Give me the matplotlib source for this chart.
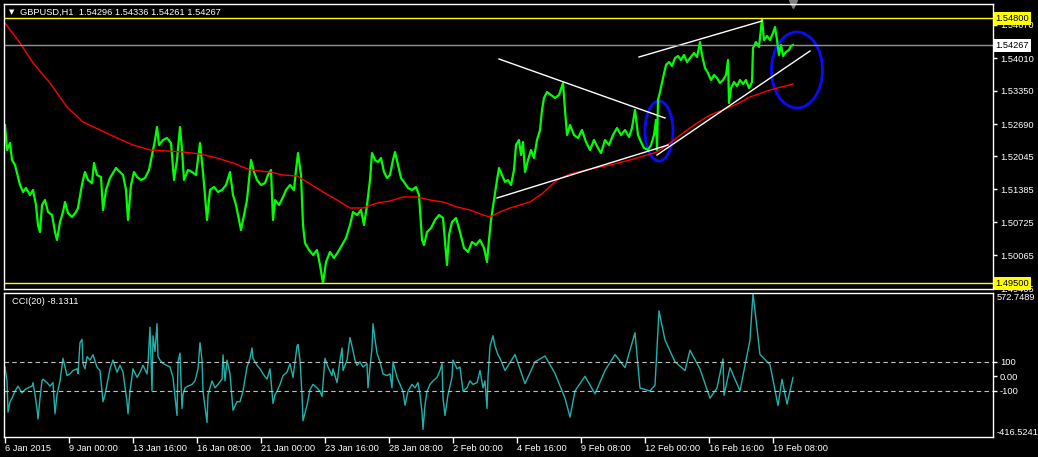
import matplotlib
matplotlib.use("Agg")
import matplotlib.pyplot as plt
from matplotlib.patches import Ellipse
from matplotlib.transforms import blended_transform_factory

plt.rcParams['font.family'] = ['Liberation Sans', 'DejaVu Sans']

# GBPUSD H1, bars counted in hours from 6 Jan 2015 08:00
price_bar = [0, 2, 5, 7, 10, 13, 15, 18, 21, 25, 28, 31, 33, 35, 37, 40, 43, 47, 50, 52,
             55, 58, 60, 63, 67, 71, 73, 76, 78, 80, 83, 87, 89, 92, 96, 98, 101, 105, 108, 111,
             115, 118, 121, 123, 126, 129, 132, 136, 140, 144, 147, 150, 152, 154, 158, 162, 166, 169, 172, 175,
             177, 179, 183, 187, 191, 195, 198, 202, 205, 209, 213, 217, 221, 225, 228, 231, 234, 236, 239, 242,
             244, 246, 249, 252, 256, 260, 263, 266, 268, 270, 274, 278, 281, 285, 289, 291, 293, 296, 298, 300,
             304, 308, 312, 315, 318, 321, 325, 329, 333, 337, 341, 345, 348, 352, 356, 359, 362, 365, 367, 370,
             373, 376, 379, 382, 385, 388, 390, 393, 396, 399, 403, 407, 411, 414, 417, 419, 422, 426, 430, 434,
             438, 442, 444, 447, 451, 455, 459, 463, 467, 471, 475, 479, 482, 484, 486, 489, 492, 494, 497, 500,
             503, 506, 509, 511, 514, 516, 518, 520, 523, 526, 529, 532, 535, 537, 539, 542, 546, 550, 554, 558,
             560, 562, 565, 569, 573, 577, 581, 585, 589, 593, 596, 600, 604, 608, 612, 616, 620, 624, 627, 630,
             633, 636, 639, 643, 646, 649, 651, 652, 653, 655, 658, 661, 664, 667, 670, 673, 676, 679, 682, 685,
             689, 692, 695, 697, 700, 703, 706, 709, 712, 715, 718, 721, 723, 724, 726, 729, 732, 735, 738, 741,
             744, 747, 748, 751, 754, 757, 759, 762, 765, 768, 770, 772, 774, 776, 778, 781, 784, 786, 788]
price = [1.5267, 1.5217, 1.5231, 1.5197, 1.5187, 1.5163, 1.5147, 1.5133, 1.5141, 1.5127,
         1.5137, 1.5107, 1.5067, 1.5053, 1.5107, 1.5117, 1.5093, 1.5087, 1.5053, 1.5037,
         1.5073, 1.5093, 1.5113, 1.5091, 1.5083, 1.5093, 1.5101, 1.5137, 1.5157, 1.5173,
         1.5157, 1.5151, 1.5191, 1.5167, 1.5163, 1.5097, 1.5137, 1.5161, 1.5171, 1.5181,
         1.5173, 1.5167, 1.5137, 1.5077, 1.5147, 1.5173, 1.5163, 1.5157, 1.5161, 1.5177,
         1.5207, 1.5237, 1.5263, 1.5227, 1.5237, 1.5241, 1.5231, 1.5157, 1.5197, 1.5263,
         1.5217, 1.5157, 1.5177, 1.5173, 1.5167, 1.5231, 1.5173, 1.5077, 1.5137, 1.5143,
         1.5133, 1.5137, 1.5147, 1.5173, 1.5127, 1.5107, 1.5077, 1.5057, 1.5087, 1.5117,
         1.5157, 1.5197, 1.5173, 1.5157, 1.5147, 1.5151, 1.5167, 1.5177, 1.5077, 1.5117,
         1.5107, 1.5123, 1.5137, 1.5147, 1.5137, 1.5177, 1.5211, 1.5167, 1.5067, 1.5031,
         1.5017, 1.5007, 1.5017, 1.4987, 1.4951, 1.4993, 1.5013, 1.5001, 1.5013, 1.5027,
         1.5041, 1.5067, 1.5093, 1.5087, 1.5097, 1.5067, 1.5107, 1.5157, 1.5211, 1.5197,
         1.5193, 1.5201, 1.5173, 1.5161, 1.5167, 1.5197, 1.5213, 1.5187, 1.5161, 1.5153,
         1.5141, 1.5137, 1.5143, 1.5127, 1.5037, 1.5027, 1.5053, 1.5061, 1.5077, 1.5087,
         1.5081, 1.4987, 1.5047, 1.5073, 1.5081, 1.5053, 1.5021, 1.5013, 1.5033, 1.5027,
         1.5037, 1.5021, 1.4993, 1.5037, 1.5077, 1.5117, 1.5157, 1.5181, 1.5167, 1.5153,
         1.5157, 1.5147, 1.5177, 1.5227, 1.5237, 1.5207, 1.5233, 1.5173, 1.5197, 1.5217,
         1.5201, 1.5237, 1.5257, 1.5297, 1.5321, 1.5333, 1.5327, 1.5321, 1.5327, 1.5351,
         1.5297, 1.5247, 1.5267, 1.5247, 1.5241, 1.5257, 1.5233, 1.5217, 1.5237, 1.5221,
         1.5211, 1.5237, 1.5227, 1.5247, 1.5261, 1.5247, 1.5257, 1.5243, 1.5261, 1.5297,
         1.5247, 1.5233, 1.5221, 1.5217, 1.5227, 1.5247, 1.5277, 1.5217, 1.5317, 1.5333,
         1.5361, 1.5387, 1.5393, 1.5385, 1.5401, 1.5405, 1.5397, 1.5407, 1.5393, 1.5401,
         1.5411, 1.5403, 1.5433, 1.5407, 1.5381, 1.5371, 1.5357, 1.5367, 1.5361, 1.5351,
         1.5357, 1.5367, 1.5397, 1.5311, 1.5341, 1.5353, 1.5345, 1.5357, 1.5349, 1.5357,
         1.5341, 1.5353, 1.5421, 1.5433, 1.5423, 1.5479, 1.5437, 1.5445, 1.5437, 1.5451,
         1.5463, 1.5437, 1.5407, 1.5427, 1.5405, 1.5413, 1.5417, 1.5425, 1.5427]

ma_bar = [0, 15, 28, 45, 62, 78, 95, 112, 128, 145, 162, 178, 195, 212, 228, 245, 265, 278, 292, 302,
          318, 332, 345, 358, 372, 385, 398, 412, 425, 438, 452, 465, 478, 485, 495, 505, 525, 538, 552, 565,
          585, 605, 625, 642, 652, 665, 678, 692, 705, 718, 732, 745, 765, 788]
ma = [1.5471, 1.5431, 1.5391, 1.5351, 1.5303, 1.5273, 1.5257, 1.5241, 1.5227, 1.5217,
      1.5215, 1.5213, 1.5209, 1.5201, 1.5191, 1.5177, 1.5173, 1.5167, 1.5165, 1.5153,
      1.5133, 1.5117, 1.5101, 1.5101, 1.5111, 1.5115, 1.5123, 1.5123, 1.5117, 1.5113,
      1.5103, 1.5097, 1.5087, 1.5083, 1.5093, 1.5101, 1.5113, 1.5131, 1.5157, 1.5169,
      1.5179, 1.5187, 1.5197, 1.5207, 1.5213, 1.5231, 1.5251, 1.5271, 1.5287, 1.5297,
      1.5309, 1.5323, 1.5337, 1.5349]

cci_bar = [0, 2, 3, 5, 7, 10, 13, 17, 20, 23, 27, 28, 30, 32, 33, 35, 37, 38, 42, 45,
           48, 50, 52, 55, 58, 62, 65, 68, 72, 73, 75, 77, 78, 80, 82, 85, 88, 92, 95, 98,
           100, 102, 105, 108, 112, 115, 118, 122, 123, 125, 128, 132, 135, 138, 142, 143, 145, 147, 148, 150,
           152, 153, 155, 158, 165, 168, 172, 173, 175, 177, 178, 180, 183, 187, 190, 193, 195, 197, 198, 202,
           203, 207, 210, 213, 217, 218, 220, 222, 225, 228, 232, 235, 238, 242, 245, 247, 248, 252, 255, 258,
           262, 265, 268, 270, 272, 275, 278, 282, 285, 288, 292, 293, 295, 297, 298, 302, 305, 308, 312, 315,
           317, 320, 323, 327, 328, 332, 335, 337, 338, 342, 345, 347, 350, 352, 355, 358, 362, 363, 365, 367,
           368, 370, 372, 375, 378, 382, 385, 387, 388, 392, 395, 398, 400, 403, 407, 410, 413, 415, 417, 418,
           420, 422, 425, 428, 432, 435, 437, 438, 440, 443, 447, 448, 452, 455, 458, 462, 465, 468, 472, 475,
           478, 480, 482, 483, 485, 488, 490, 493, 495, 500, 510, 520, 530, 540, 550, 560, 565, 570, 580, 590,
           600, 610, 620, 630, 635, 645, 650, 654, 660, 670, 680, 685, 695, 705, 712, 718, 719, 725, 735, 745,
           748, 755, 765, 773, 777, 782, 788]
cci = [64, -31, -245, -174, -150, -102, -67, -114, -90, -79, -67, -43, -126, -221, -293, -150, -31, -19, -43, -67,
       -43, -257, -126, -31, 124, 5, 17, 40, 52, 17, 231, 255, 88, 52, 136, 112, 148, 64, 40, -174,
       -126, -55, 52, 112, 29, 76, 29, -174, -257, -102, 52, -7, 29, 76, 17, 88, 338, -102, 279, 171,
       362, 136, 112, 88, 64, -7, -269, 100, 160, -221, -126, -79, -67, -55, -31, 52, 231, 112, -102, -317,
       -126, -31, -79, -55, -19, 148, -31, 112, 17, -233, -174, -174, -102, 64, 124, 195, 124, 76, 52, 17,
       -19, 52, -186, -126, -102, -55, 5, 29, 88, -7, 207, 219, 112, -126, -305, -198, -90, -55, -79, -102,
       -138, 124, 64, 5, 52, -43, 112, 195, 40, 112, 267, 207, 112, 76, 100, 64, 88, -79, 64, 195,
       362, 255, 160, 100, 17, 5, 17, -79, 100, -7, -55, -102, -198, -102, -55, -79, -43, -126, -245, -364,
       -198, -102, -55, -31, -7, 40, 88, -150, -269, -126, -7, 112, 52, 64, -102, -79, -31, -55, -43, 40,
       -79, -31, -221, -7, 207, 279, 207, 148, 124, 40, 150, -50, 100, 140, 20, -150, -280, -100, 0, -120,
       40, 150, 60, 300, -80, -100, -60, 450, 250, 100, 40, 180, 50, -150, -80, 120, -130, 60, -100, 250,
       570, 150, 80, -200, -20, -190, -8]

date_ticks = [0, 64, 128, 192, 256, 320, 384, 448, 512, 576, 640, 704, 768]
date_labels = ["6 Jan 2015", "9 Jan 00:00", "13 Jan 16:00", "16 Jan 08:00", "21 Jan 00:00",
               "23 Jan 16:00", "28 Jan 08:00", "2 Feb 00:00", "4 Feb 16:00", "9 Feb 08:00",
               "12 Feb 00:00", "16 Feb 16:00", "19 Feb 08:00"]
price_ticks = [1.54670, 1.54010, 1.53350, 1.52690, 1.52045, 1.51385, 1.50725, 1.50065, 1.49405]
level_hi, level_lo, bid = 1.54800, 1.49500, 1.54267
cci_hi, cci_lo = 572.7489, -416.5241

# drawn objects: trend lines (bar, price) and ellipses (bar, price, width bars, height price)
trend_lines = [((494, 1.5399), (660, 1.5281)),
               ((492, 1.5121), (663, 1.5227)),
               ((634, 1.5403), (757, 1.5475)),
               ((652, 1.5207), (805, 1.5415))]
circles = [(654, 1.5255, 28, 0.0120), (792, 1.5377, 51, 0.0152)]

W, H = 1038, 457
fig = plt.figure(figsize=(W / 100, H / 100), dpi=100, facecolor='black')
ax = fig.add_axes([4 / W, 1 - 289 / H, 989 / W, 285 / H], facecolor='black')
ax2 = fig.add_axes([4 / W, 1 - 437 / H, 989 / W, 144 / H], facecolor='black', sharex=ax)

fs = 6.7
for a in (ax, ax2):
    for s in a.spines.values():
        s.set_color('white')
        s.set_linewidth(1)
    a.yaxis.tick_right()
    a.tick_params(axis='y', colors='white', labelsize=fs, length=3, width=1, pad=2)

ax.set_xlim(-1, 988)
ax.set_ylim(1.4939, 1.5509)

# main window
ax.plot(price_bar, price, color='#00ff00', lw=1.6)
ax.plot(ma_bar, ma, color='#ff0000', lw=1)
for (b0, p0), (b1, p1) in trend_lines:
    ax.plot([b0, b1], [p0, p1], color='white', lw=1)
for b, p, w, h in circles:
    ax.add_patch(Ellipse((b, p), w, h, fill=False, edgecolor='#0a0aff', lw=2))
ax.axhline(level_hi, color='#ffff00', lw=1)
ax.axhline(level_lo, color='#ffff00', lw=1)
ax.axhline(bid, color='#8a949c', lw=1)

ax.set_yticks(price_ticks)
ax.set_yticklabels([f"{v:.5f}" for v in price_ticks])
ax.tick_params(axis='x', bottom=False, labelbottom=False)

tr = blended_transform_factory(ax.transAxes, ax.transData)
for v, bg in [(level_hi, '#ffff00'), (bid, 'white'), (level_lo, '#ffff00')]:
    ax.text(1.0025, v, f"{v:.5f}", transform=tr, fontsize=fs, color='black', va='center', ha='left',
            bbox=dict(boxstyle='square,pad=0.2', fc=bg, ec='none'), clip_on=False, zorder=5)

ax.plot([788], [1.0], marker='v', color='#808080', ms=6, transform=blended_transform_factory(ax.transData, ax.transAxes),
        clip_on=False)
fig.text(12 / W, 1 - 12 / H, "\u25bc", color='white', fontsize=5, va='center', ha='center', family='DejaVu Sans')
fig.text(20 / W, 1 - 12 / H, "GBPUSD,H1  1.54296 1.54336 1.54261 1.54267", color='white',
         fontsize=fs, va='center', ha='left')

# CCI window
ax2.set_ylim(cci_lo, cci_hi)
ax2.plot(cci_bar, cci, color='#20b2aa', lw=1)
for lvl in (100, -100):
    ax2.axhline(lvl, color='#c0c0c0', lw=0.8, ls=(0, (4, 3)))
ax2.set_yticks([100, 0, -100])
ax2.set_yticklabels(["100", "0.00", "-100"])
tr2 = blended_transform_factory(ax2.transAxes, ax2.transData)
ax2.text(1.004, cci_hi, f"{cci_hi:.4f}", transform=tr2, color='white', fontsize=fs, va='top', ha='left', clip_on=False)
ax2.text(1.004, cci_lo, f"{cci_lo:.4f}", transform=tr2, color='white', fontsize=fs, va='bottom', ha='left', clip_on=False)
ax2.text(8 / 989, 1 - 9 / 144, "CCI(20) -8.1311", transform=ax2.transAxes, color='white', fontsize=fs,
         va='center', ha='left')

ax2.set_xticks(date_ticks)
ax2.set_xticklabels(date_labels)
ax2.tick_params(axis='x', colors='white', labelsize=fs, length=4, width=1, pad=1)
for lab in ax2.get_xticklabels():
    lab.set_ha('left')

fig.savefig('out.png', dpi=100, facecolor='black')
